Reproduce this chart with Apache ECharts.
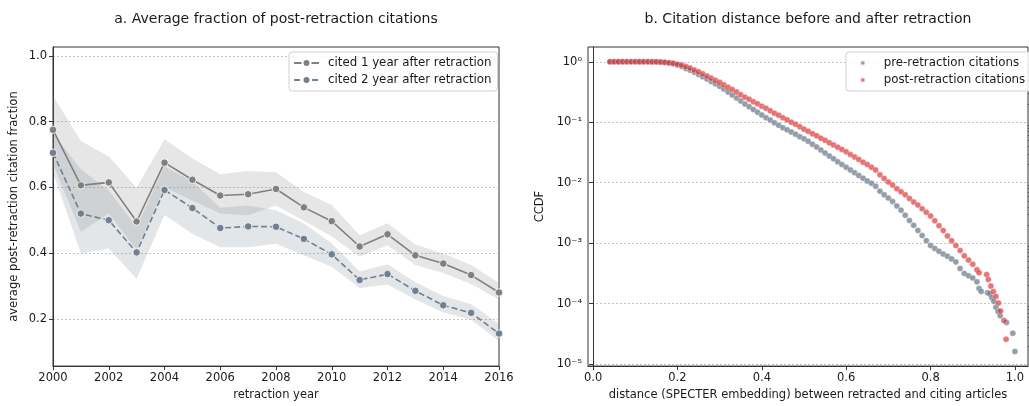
<!DOCTYPE html>
<html><head><meta charset="utf-8">
<script src="https://cdn.jsdelivr.net/npm/echarts@6/dist/echarts.min.js"></script>
<style>html,body{margin:0;padding:0;background:#fff}#c{width:1029px;height:406px}</style>
</head><body><div id="c"></div>
<script>
// ---- panel a data ----
const years = [2000,2001,2002,2003,2004,2005,2006,2007,2008,2009,2010,2011,2012,2013,2014,2015,2016];
const cited1 = [0.775,0.606,0.615,0.496,0.675,0.623,0.575,0.579,0.595,0.539,0.497,0.420,0.457,0.393,0.368,0.333,0.280];
const cited1Low = [0.670,0.464,0.520,0.410,0.600,0.560,0.520,0.515,0.545,0.498,0.450,0.389,0.424,0.364,0.339,0.306,0.259];
const cited1High = [0.879,0.741,0.694,0.599,0.746,0.688,0.640,0.650,0.646,0.586,0.546,0.454,0.491,0.426,0.399,0.364,0.309];
const cited2 = [0.705,0.520,0.500,0.402,0.592,0.537,0.476,0.481,0.480,0.443,0.396,0.318,0.336,0.285,0.241,0.218,0.155];
const cited2Low = [0.645,0.399,0.414,0.322,0.516,0.459,0.418,0.418,0.428,0.393,0.358,0.294,0.304,0.259,0.219,0.197,0.132];
const cited2High = [0.765,0.655,0.590,0.480,0.664,0.618,0.538,0.545,0.530,0.490,0.430,0.344,0.366,0.311,0.269,0.244,0.184];
const leftYTicks = [0.2,0.4,0.6,0.8,1.0];

// ---- panel b data (CCDF given as exponent of ten) ----
const preDist = [0.04,0.05,0.06,0.07,0.08,0.09,0.10,0.11,0.12,0.13,0.14,0.15,0.16,0.17,0.18,0.19,0.20,0.21,0.22,0.23,0.24,0.25,0.26,0.27,0.28,0.29,0.30,0.31,0.32,0.33,0.34,0.35,0.36,0.37,0.38,0.39,0.40,0.41,0.42,0.43,0.44,0.45,0.46,0.47,0.48,0.49,0.50,0.51,0.52,0.53,0.54,0.55,0.56,0.57,0.58,0.59,0.60,0.61,0.62,0.63,0.64,0.65,0.66,0.67,0.68,0.69,0.70,0.71,0.72,0.73,0.74,0.75,0.76,0.77,0.78,0.79,0.80,0.81,0.82,0.83,0.84,0.85,0.86,0.87,0.88,0.89,0.90,0.91,0.915,0.92,0.935,0.94,0.945,0.95,0.955,0.96,0.965,0.98,0.995,1.0];
const preLogCCDF = [0,0,0,0,0,0,0,0,0,-0.001,-0.002,-0.004,-0.007,-0.012,-0.02,-0.035,-0.055,-0.08,-0.11,-0.14,-0.175,-0.21,-0.25,-0.285,-0.325,-0.365,-0.405,-0.45,-0.50,-0.55,-0.60,-0.65,-0.70,-0.745,-0.79,-0.835,-0.88,-0.925,-0.965,-1.01,-1.05,-1.09,-1.125,-1.16,-1.2,-1.24,-1.275,-1.315,-1.365,-1.41,-1.46,-1.51,-1.56,-1.605,-1.655,-1.70,-1.745,-1.79,-1.835,-1.88,-1.925,-1.97,-2.01,-2.06,-2.14,-2.2,-2.255,-2.31,-2.385,-2.455,-2.54,-2.625,-2.705,-2.79,-2.875,-2.96,-3.04,-3.09,-3.135,-3.18,-3.215,-3.26,-3.31,-3.42,-3.5,-3.54,-3.575,-3.64,-3.75,-3.80,-3.82,-3.835,-3.9,-3.96,-4.06,-4.13,-4.2,-4.31,-4.49,-4.79];
const postDist = [0.04,0.05,0.06,0.07,0.08,0.09,0.10,0.11,0.12,0.13,0.14,0.15,0.16,0.17,0.18,0.19,0.20,0.21,0.22,0.23,0.24,0.25,0.26,0.27,0.28,0.29,0.30,0.31,0.32,0.33,0.34,0.35,0.36,0.37,0.38,0.39,0.40,0.41,0.42,0.43,0.44,0.45,0.46,0.47,0.48,0.49,0.50,0.51,0.52,0.53,0.54,0.55,0.56,0.57,0.58,0.59,0.60,0.61,0.62,0.63,0.64,0.65,0.66,0.67,0.68,0.69,0.70,0.71,0.72,0.73,0.74,0.75,0.76,0.77,0.78,0.79,0.80,0.81,0.82,0.83,0.84,0.85,0.86,0.87,0.88,0.89,0.90,0.91,0.915,0.933,0.937,0.943,0.949,0.955,0.961,0.966,0.974,0.979];
const postLogCCDF = [0,0,0,0,0,0,0,0,0,0,0,-0.001,-0.003,-0.008,-0.015,-0.025,-0.04,-0.055,-0.08,-0.105,-0.135,-0.165,-0.2,-0.235,-0.27,-0.305,-0.34,-0.38,-0.42,-0.46,-0.50,-0.545,-0.585,-0.62,-0.66,-0.695,-0.735,-0.77,-0.81,-0.85,-0.885,-0.925,-0.96,-1.0,-1.035,-1.075,-1.115,-1.15,-1.19,-1.225,-1.265,-1.30,-1.34,-1.375,-1.415,-1.45,-1.49,-1.535,-1.575,-1.615,-1.66,-1.70,-1.745,-1.79,-1.87,-1.93,-1.99,-2.04,-2.1,-2.15,-2.2,-2.26,-2.32,-2.37,-2.43,-2.49,-2.55,-2.63,-2.71,-2.79,-2.88,-2.96,-3.04,-3.12,-3.21,-3.28,-3.35,-3.44,-3.49,-3.52,-3.6,-3.71,-3.8,-3.88,-3.99,-4.12,-4.28,-4.59];
const rightXTicks = [0,0.2,0.4,0.6,0.8,1.0];
const rightYTicks = [1e-5,1e-4,1e-3,1e-2,1e-1,1];

const FONT = 'DejaVu Sans';
const TXT = '#1a1a1a';
const SUP = {'-':'\u207B','0':'\u2070','1':'\u00B9','2':'\u00B2','3':'\u00B3','4':'\u2074','5':'\u2075','6':'\u2076','7':'\u2077','8':'\u2078','9':'\u2079'};
function powLabel(v){ const e = Math.round(Math.log10(v)); return '10' + String(e).split('').map(c=>SUP[c]).join(''); }
const minorLog = [];
for (let n=-5;n<0;n++) for (let k=2;k<=9;k++) minorLog.push(k*Math.pow(10,n));

const pair = (xs, ys) => xs.map((x,i)=>[x, ys[i]]);
const gridLine = {show:true, lineStyle:{color:'#b5b5b5', width:0.8, type:[2,2]}};
const frameLine = {show:true, lineStyle:{color:'#333', width:1}};

function bandSeries(low, high, fill){
  return {type:'custom', xAxisIndex:0, yAxisIndex:0, silent:true, z:1,
    data:[[years[0], low[0]]], encode:{x:0, y:1},
    renderItem:(params, api)=>{
      const pts = [];
      for (let i=0;i<years.length;i++) pts.push(api.coord([years[i], high[i]]));
      for (let i=years.length-1;i>=0;i--) pts.push(api.coord([years[i], low[i]]));
      return {type:'polygon', shape:{points:pts}, style:{fill:fill, stroke:null}};
    }};
}

const chart = echarts.init(document.getElementById('c'), null, {renderer:'canvas'});
chart.setOption({
  animation:false,
  textStyle:{fontFamily:FONT},
  title:[
    {text:'a. Average fraction of post-retraction citations', left:276, top:12, padding:0, textAlign:'center',
     textStyle:{fontFamily:FONT, fontSize:14, fontWeight:'normal', color:TXT}},
    {text:'b. Citation distance before and after retraction', left:808, top:12, padding:0, textAlign:'center',
     textStyle:{fontFamily:FONT, fontSize:14, fontWeight:'normal', color:TXT}}
  ],
  legend:[
    {data:['cited 1 year after retraction','cited 2 year after retraction'], left:289, top:52, orient:'vertical',
     padding:[5,6,5,4], itemGap:5, itemWidth:25, itemHeight:10, backgroundColor:'rgba(255,255,255,0.85)',
     borderColor:'#d0d0d0', borderWidth:1, borderRadius:3,
     textStyle:{fontFamily:FONT, fontSize:11.8, color:TXT, padding:[0,0,0,4]}},
    {data:['pre-retraction citations','post-retraction citations'], left:846, top:52, orient:'vertical',
     padding:[5,8,5,13], itemGap:5, itemWidth:28, itemHeight:5.5, icon:'circle', backgroundColor:'rgba(255,255,255,0.85)',
     borderColor:'#d0d0d0', borderWidth:1, borderRadius:3,
     textStyle:{fontFamily:FONT, fontSize:11.8, color:TXT, padding:[0,0,0,2]}}
  ],
  grid:[
    {left:53, right:530, top:47, bottom:35, show:true, borderColor:'#333', borderWidth:1, backgroundColor:'transparent'},
    {left:588, right:1, top:47, bottom:35, show:true, borderColor:'#333', borderWidth:1, backgroundColor:'transparent'}
  ],
  xAxis:[
    {type:'value', gridIndex:0, min:2000, max:2016, interval:2,
     name:'retraction year', nameLocation:'middle', nameGap:22, nameTextStyle:{fontFamily:FONT, fontSize:11.5, color:TXT},
     axisLine:frameLine, axisTick:{show:true, length:4, lineStyle:{color:'#333'}},
     axisLabel:{fontFamily:FONT, fontSize:11.5, color:TXT, margin:6, formatter:v=>String(v)}, splitLine:{show:false}},
    {type:'value', gridIndex:1, min:-0.012, max:1.031,
     name:'distance (SPECTER embedding) between retracted and citing articles', nameLocation:'middle', nameGap:22,
     nameTextStyle:{fontFamily:FONT, fontSize:11.5, color:TXT},
     axisLine:frameLine, axisTick:{show:true, length:4, lineStyle:{color:'#333'}, customValues:rightXTicks},
     axisLabel:{fontFamily:FONT, fontSize:11.5, color:TXT, margin:6, customValues:rightXTicks, formatter:v=>v.toFixed(1)},
     splitLine:{show:false}}
  ],
  yAxis:[
    {type:'value', gridIndex:0, min:0.056, max:1.027,
     name:'average post-retraction citation fraction', nameLocation:'middle', nameGap:33,
     nameTextStyle:{fontFamily:FONT, fontSize:11.5, color:TXT},
     axisLine:frameLine, axisTick:{show:true, length:4, lineStyle:{color:'#333'}, customValues:leftYTicks},
     axisLabel:{fontFamily:FONT, fontSize:11.5, color:TXT, margin:6, customValues:leftYTicks, formatter:v=>v.toFixed(1)},
     splitLine:gridLine},
    {type:'log', logBase:10, gridIndex:1, min:9.27e-6, max:1.754,
     name:'CCDF', nameLocation:'middle', nameGap:42, nameTextStyle:{fontFamily:FONT, fontSize:11.5, color:TXT},
     axisLine:frameLine, axisTick:{show:true, length:4, lineStyle:{color:'#333'}, customValues:rightYTicks},
     axisLabel:{fontFamily:FONT, fontSize:11.5, color:TXT, margin:6, customValues:rightYTicks, formatter:powLabel},
     splitLine:gridLine},
    {type:'log', logBase:10, gridIndex:1, min:9.27e-6, max:1.754,
     axisLine:{show:false}, axisLabel:{show:false}, splitLine:{show:false},
     axisTick:{show:true, length:2, lineStyle:{color:'#333', width:0.8}, customValues:minorLog}}
  ],
  series:[
    bandSeries(cited1Low, cited1High, 'rgba(128,128,128,0.2)'),
    bandSeries(cited2Low, cited2High, 'rgba(112,128,144,0.2)'),
    {name:'cited 1 year after retraction', type:'line', xAxisIndex:0, yAxisIndex:0, data:pair(years,cited1),
     symbol:'circle', symbolSize:7.5, showAllSymbol:true, color:'#808080',
     itemStyle:{color:'#808080', borderColor:'#fff', borderWidth:0.8}, lineStyle:{color:'#808080', width:1.6}, z:3},
    {name:'cited 2 year after retraction', type:'line', xAxisIndex:0, yAxisIndex:0, data:pair(years,cited2),
     symbol:'circle', symbolSize:7.5, showAllSymbol:true, color:'#708090',
     itemStyle:{color:'#708090', borderColor:'#fff', borderWidth:0.8}, lineStyle:{color:'#708090', width:1.6, type:[6,3]}, z:3},
    {name:'pre-retraction citations', type:'scatter', xAxisIndex:1, yAxisIndex:1,
     data:preDist.map((d,i)=>[d, Math.pow(10, preLogCCDF[i])]), symbolSize:6,
     itemStyle:{color:'rgba(108,124,140,0.92)', borderColor:'#fff', borderWidth:0.4}, z:3},
    {name:'post-retraction citations', type:'scatter', xAxisIndex:1, yAxisIndex:1,
     data:postDist.map((d,i)=>[d, Math.pow(10, postLogCCDF[i])]), symbolSize:6,
     itemStyle:{color:'rgba(214,39,40,0.8)', borderColor:'#fff', borderWidth:0.4}, z:4}
  ]
});
</script></body></html>
